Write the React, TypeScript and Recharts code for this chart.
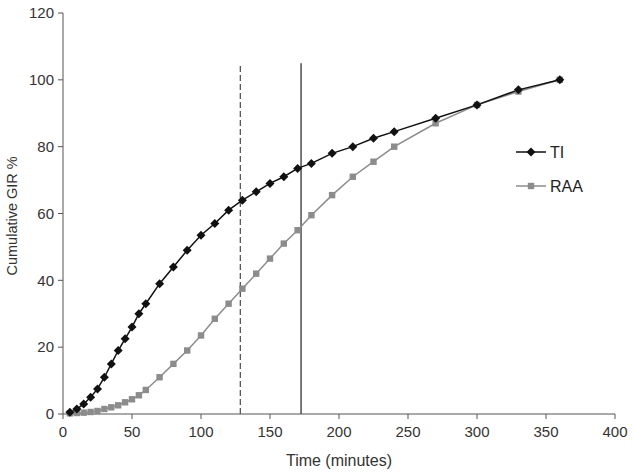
import { Line, LineChart, ReferenceLine, XAxis, YAxis } from "recharts";

const times = [5, 10, 15, 20, 25, 30, 35, 40, 45, 50, 55, 60, 70, 80, 90, 100, 110, 120, 130, 140, 150, 160, 170, 180, 195, 210, 225, 240, 270, 300, 330, 360];
const tiValues = [0.5, 1.5, 3, 5, 7.5, 11, 15, 19, 22.5, 26, 30, 33, 39, 44, 49, 53.5, 57, 61, 64, 66.5, 69, 71, 73.5, 75, 78, 80, 82.5, 84.5, 88.5, 92.5, 97, 100];
const raaValues = [0.2, 0.3, 0.4, 0.6, 0.9, 1.5, 2, 2.6, 3.5, 4.4, 5.6, 7.2, 11, 15, 19, 23.5, 28.5, 33, 37.5, 42, 46.5, 51, 55, 59.5, 65.5, 71, 75.5, 80, 87, 92.5, 96.5, 100];
const xTicks = [0, 50, 100, 150, 200, 250, 300, 350, 400];
const yTicks = [0, 20, 40, 60, 80, 100, 120];
const dashedLineAt = 128.5;
const solidLineAt = 172.5;
const refLineTop = 105;

const data = times.map((t, i) => ({ time: t, TI: tiValues[i], RAA: raaValues[i] }));

const font = "'Liberation Sans', Arial, sans-serif";
const TI_COLOR = "#111";
const RAA_COLOR = "#8c8c8c";
const TEXT = "#333";

const Diamond = (props: any) => {
  const { cx, cy, key } = props;
  if (cx == null || cy == null) return <g key={key} />;
  const s = 4.5;
  return <path key={key} d={`M${cx},${cy - s}L${cx + s},${cy}L${cx},${cy + s}L${cx - s},${cy}Z`} fill={TI_COLOR} />;
};

const Square = (props: any) => {
  const { cx, cy, key } = props;
  if (cx == null || cy == null) return <g key={key} />;
  const s = 3.2;
  return <rect key={key} x={cx - s} y={cy - s} width={s * 2} height={s * 2} fill={RAA_COLOR} />;
};

// legend drawn as an overlay so it takes no room from the plot
const LegendBox = () => (
  <svg
    width={110}
    height={60}
    style={{ position: "absolute", left: 512, top: 140, fontFamily: font, fontSize: 16 }}
  >
    <line x1={4} y1={12} x2={34} y2={12} stroke={TI_COLOR} strokeWidth={1.5} />
    <Diamond cx={19} cy={12} />
    <text x={38} y={18} fill="#222">TI</text>
    <line x1={4} y1={46} x2={34} y2={46} stroke={RAA_COLOR} strokeWidth={1.5} />
    <Square cx={19} cy={46} />
    <text x={38} y={52} fill="#222">RAA</text>
  </svg>
);

export default function App() {
  return (
    <div style={{ position: "absolute", left: 0, top: 0, width: 634, height: 473 }}>
      <LineChart width={634} height={473} data={data} margin={{ top: 13, right: 19, left: 0, bottom: 0 }}>
        <XAxis
          dataKey="time"
          type="number"
          domain={[0, 400]}
          ticks={xTicks}
          height={59}
          stroke="#555"
          tickSize={5}
          tickMargin={7}
          tick={{ fill: TEXT, fontSize: 15, fontFamily: font }}
          label={{ value: "Time (minutes)", position: "insideBottom", offset: 7, fill: TEXT, fontSize: 16, fontFamily: font }}
        />
        <YAxis
          type="number"
          domain={[0, 120]}
          ticks={yTicks}
          width={63}
          stroke="#555"
          tickSize={5}
          tickMargin={4}
          tick={{ fill: TEXT, fontSize: 15, fontFamily: font }}
          label={{ value: "Cumulative GIR %", angle: -90, position: "insideLeft", offset: 4, dx: 8, dy: 62, fill: TEXT, fontSize: 14.5, fontFamily: font }}
        />
        <ReferenceLine
          segment={[{ x: dashedLineAt, y: 0 }, { x: dashedLineAt, y: refLineTop }]}
          stroke="#555"
          strokeWidth={1.3}
          strokeDasharray="6 3"
        />
        <ReferenceLine
          segment={[{ x: solidLineAt, y: 0 }, { x: solidLineAt, y: refLineTop }]}
          stroke="#333"
          strokeWidth={1.3}
        />
        <Line dataKey="RAA" stroke={RAA_COLOR} strokeWidth={1.5} dot={Square} isAnimationActive={false} />
        <Line dataKey="TI" stroke={TI_COLOR} strokeWidth={1.5} dot={Diamond} isAnimationActive={false} />
      </LineChart>
      <LegendBox />
    </div>
  );
}
